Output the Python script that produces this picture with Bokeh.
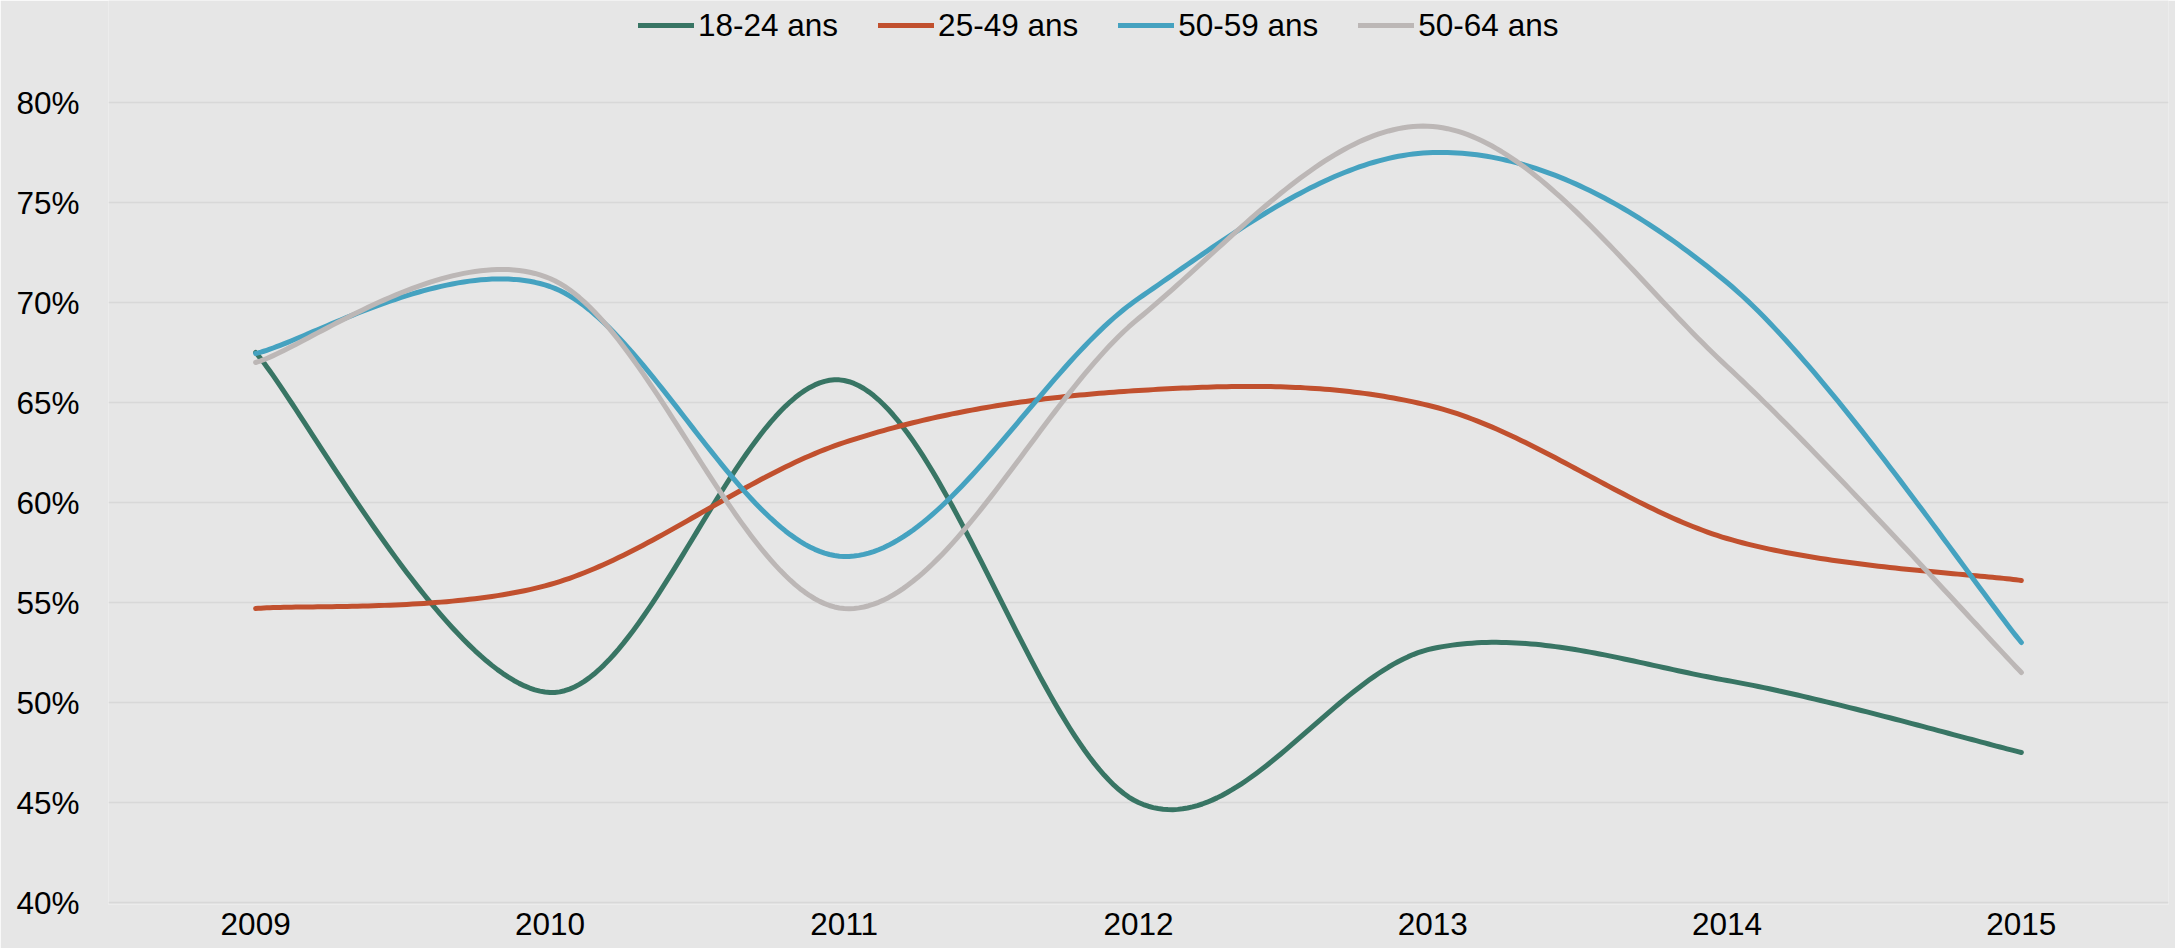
import numpy as np
from bokeh.plotting import figure
from bokeh.models import Range1d, FixedTicker, NumeralTickFormatter, Legend, LegendItem
from bokeh.embed import file_html
from bokeh.resources import INLINE

# ---- data (percent) ----
years = [2009, 2010, 2011, 2012, 2013, 2014, 2015]
ages_18_24 = [67.5, 50.5, 66.1, 45.0, 52.7, 51.1, 47.5]
ages_25_49 = [54.7, 55.9, 63.0, 65.6, 64.8, 58.2, 56.1]
ages_50_59 = [67.45, 70.8, 57.3, 70.2, 77.5, 71.0, 53.0]
ages_50_64 = [67.0, 71.2, 54.7, 69.2, 78.8, 66.8, 51.5]
series_names = ["18-24 ans", "25-49 ans", "50-59 ans", "50-64 ans"]
series_colors = ["#387564", "#C1502E", "#45A2C0", "#BCB7B6"]
y_ticks = [0.40, 0.45, 0.50, 0.55, 0.60, 0.65, 0.70, 0.75, 0.80]
year_labels = {y: str(y) for y in years}

FONT = "Liberation Sans"
FS = "31.5px"

# layout (pixels)
W, H = 2175, 948
FRAME_L, FRAME_R, FRAME_B = 108, 2168, 902
PX_PER_UNIT = 800 / 0.40          # 40%..80% spans 800 px
Y_TOP = 0.40 + FRAME_B / PX_PER_UNIT  # frame reaches to the top edge (room for legend)
Y_BOT = 0.40 - 2 / PX_PER_UNIT        # tiny room so the 40% gridline is fully drawn


def smooth(xs, ys, n=60):
    """Excel-like smoothed line (Bezier with Catmull-Rom control points)."""
    pts = np.column_stack([xs, ys]).astype(float)
    m = len(pts)
    out_x, out_y = [], []
    for i in range(m - 1):
        p0 = pts[max(i - 1, 0)]
        p1 = pts[i]
        p2 = pts[i + 1]
        p3 = pts[min(i + 2, m - 1)]
        c1 = p1 + (p2 - p0) / 6.0
        c2 = p2 - (p3 - p1) / 6.0
        t = np.linspace(0, 1, n, endpoint=(i == m - 2))
        b = ((1 - t) ** 3)[:, None] * p1 + (3 * (1 - t) ** 2 * t)[:, None] * c1 \
            + (3 * (1 - t) * t ** 2)[:, None] * c2 + (t ** 3)[:, None] * p2
        out_x.extend(b[:, 0])
        out_y.extend(b[:, 1])
    return out_x, out_y


BG = "#E6E6E6"
p = figure(width=W, height=H, output_backend="svg", toolbar_location=None,
           x_range=Range1d(2008.5, 2015.5), y_range=Range1d(Y_BOT, Y_TOP),
           min_border_left=FRAME_L, min_border_right=W - FRAME_R, min_border_top=0,
           min_border_bottom=H - FRAME_B - 2)
p.background_fill_color = BG
p.border_fill_color = BG
p.outline_line_color = None

p.xgrid.grid_line_color = None
p.ygrid.grid_line_color = "#D8D8D8"
p.ygrid.grid_line_width = 1.5

p.xaxis.ticker = FixedTicker(ticks=years)
p.xaxis.major_label_overrides = year_labels
p.yaxis.ticker = FixedTicker(ticks=y_ticks)
p.yaxis.formatter = NumeralTickFormatter(format="0%")
for ax in (p.xaxis, p.yaxis):
    ax.axis_line_color = None
    ax.major_tick_line_color = None
    ax.minor_tick_line_color = None
    ax.major_tick_out = 0
    ax.major_tick_in = 0
    ax.major_label_text_font = FONT
    ax.major_label_text_font_size = FS
    ax.major_label_text_color = "#000000"
p.yaxis.major_label_standoff = 29
p.xaxis.major_label_standoff = 8

items = []
for name, vals, col in zip(series_names, [ages_18_24, ages_25_49, ages_50_59, ages_50_64], series_colors):
    sx, sy = smooth(years, [v / 100.0 for v in vals])
    r = p.line(sx, sy, line_color=col, line_width=5, line_cap="round", line_join="round")
    items.append(LegendItem(label=name, renderers=[r]))

legend = Legend(items=items, orientation="horizontal", location=(638 - FRAME_L, FRAME_B + 2 - 45),
                label_text_font=FONT, label_text_font_size=FS, label_text_color="#000000",
                glyph_width=56, glyph_height=40, label_height=40, label_standoff=4,
                spacing=40, padding=0, margin=0, border_line_alpha=0,
                background_fill_alpha=0)
p.add_layout(legend)

open("out.html", "w").write(file_html(p, INLINE))
